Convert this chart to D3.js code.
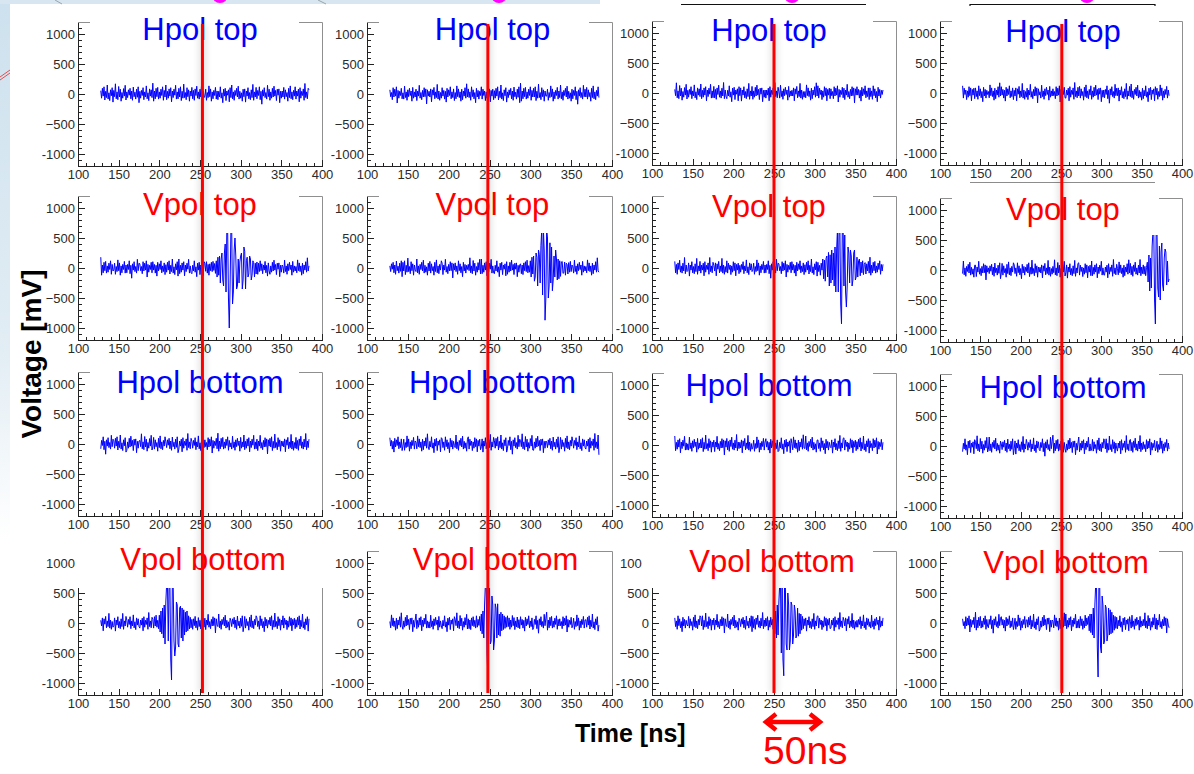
<!DOCTYPE html>
<html>
<head>
<meta charset="utf-8">
<script src="https://cdn.jsdelivr.net/npm/d3@7"></script>
<style>
  html, body { margin: 0; padding: 0; background: #fff; }
  svg { display: block; font-family: "Liberation Sans", Arial, Helvetica, sans-serif; }
</style>
</head>
<body>
<svg id="chart" width="1194" height="774"></svg>
<script>
// ---- digitiser sampling -------------------------------------------------
const sampleStart = 128;   // ns, first recorded sample
const sampleStep = 1;      // ns between samples

// ---- panel labels and axes ----------------------------------------------
const rowTitles = ["Hpol top", "Vpol top", "Hpol bottom", "Vpol bottom"];
const rowTitleColors = ["#0000ff", "#ff0000", "#0000ff", "#ff0000"];
const timeTicks = [100, 150, 200, 250, 300, 350, 400];
const voltTicks = [1000, 500, 0, -500, -1000];
const voltTickLabels = ["1000", "500", "0", "\u2212500", "-1000"];
const markerTimes = [253, 248, 250, 251];   // ns, reference time marked in each string column

// ---- waveforms (mV), one per string column, 1 ns per sample -------------
const hpolTop = [
  [55,-70,95,-35,120,-100,45,-60,150,-85,20,-110,70,-30,105,-135,
   60,-45,170,-80,35,-95,125,-50,80,-120,25,-70,90,-35,145,-100,
   35,-60,70,-20,95,-80,50,-105,115,-45,30,-85,80,-55,120,-145,
   45,-70,60,-25,105,-95,35,-50,135,-80,20,-110,85,-35,70,-60,
   180,-120,50,-80,95,-45,110,-85,35,-70,80,-25,120,-105,60,-50,
   150,-95,45,-70,85,-35,105,-130,50,-60,80,-20,145,-85,35,-80,
   95,-50,120,-110,45,-70,165,-60,25,-95,105,-45,70,-120,50,-35,
   110,-80,60,-105,85,-25,130,-70,35,-85,80,-50,175,-95,50,-60,
   -35,80,-105,25,-60,135,-45,85,-120,35,-80,60,-25,110,-85,50,
   -95,45,-50,120,-70,20,-145,80,-35,95,-110,50,-20,70,-130,105,
   -60,150,-80,35,-105,60,-25,95,-50,130,-85,45,-70,20,-120,80,
   -45,85,-135,50,-35,105,-80,25,-95,70,-60,160,-105,35,-50,110,
   -80,60,-25,120,-95,45,-170,70,-35,105,-60,25,-85,145,-45,80,
   -105,35,-70,95,-50,130,-35,60,-110,80,-20,85,-145,45,-70,50,
   -50,110,-85,70,-45,25,-120,95,-60,135,-80,35,-95,60,-35,120,
   -85,50,-35,80,-130,105,-70,45,-25,85,-105,175,-60,35,-80,95,
   70],
  [70,-45,25,-95,105,-50,80,-35,120,-150,60,-70,45,-25,95,-80,
   20,-85,130,-60,35,-105,70,-45,95,-25,50,-120,110,-70,35,-50,
   80,-110,50,-35,145,-70,25,-95,60,-50,105,-45,85,-165,70,-35,
   45,-50,85,-130,70,-20,110,-80,35,-60,160,-85,50,-105,25,-70,
   105,-35,60,-85,45,-135,95,-50,70,-25,120,-80,35,-60,85,-110,
   25,-80,135,-45,85,-60,35,-120,80,-95,50,-35,105,-70,170,-50,
   85,-60,35,-105,120,-45,70,-80,25,-145,95,-50,60,-85,45,-25,
   120,-85,80,-25,50,-110,35,-70,105,-45,85,-130,60,-35,80,-95,
   55,-70,95,-35,120,-100,45,-60,150,-85,20,-110,70,-30,105,-135,
   35,-60,70,-20,95,-80,50,-105,115,-45,30,-85,80,-55,120,-145,
   180,-120,50,-80,95,-45,110,-85,35,-70,80,-25,120,-105,60,-50,
   95,-50,120,-110,45,-70,165,-60,25,-95,105,-45,70,-120,50,-35,
   -35,80,-105,25,-60,135,-45,85,-120,35,-80,60,-25,110,-85,50,
   -60,150,-80,35,-105,60,-25,95,-50,130,-85,45,-70,20,-120,80,
   -80,60,-25,120,-95,45,-170,70,-35,105,-60,25,-85,145,-45,80,
   -50,110,-85,70,-45,25,-120,95,-60,135,-80,35,-95,60,-35,120,
   -60],
  [60,-45,170,-80,35,-95,125,-50,80,-120,25,-70,90,-35,145,-100,
   45,-70,60,-25,105,-95,35,-50,135,-80,20,-110,85,-35,70,-60,
   150,-95,45,-70,85,-35,105,-130,50,-60,80,-20,145,-85,35,-80,
   110,-80,60,-105,85,-25,130,-70,35,-85,80,-50,175,-95,50,-60,
   -95,45,-50,120,-70,20,-145,80,-35,95,-110,50,-20,70,-130,105,
   -45,85,-135,50,-35,105,-80,25,-95,70,-60,160,-105,35,-50,110,
   -105,35,-70,95,-50,130,-35,60,-110,80,-20,85,-145,45,-70,50,
   -85,50,-35,80,-130,105,-70,45,-25,85,-105,175,-60,35,-80,95,
   20,-85,130,-60,35,-105,70,-45,95,-25,50,-120,110,-70,35,-50,
   45,-50,85,-130,70,-20,110,-80,35,-60,160,-85,50,-105,25,-70,
   25,-80,135,-45,85,-60,35,-120,80,-95,50,-35,105,-70,170,-50,
   120,-85,80,-25,50,-110,35,-70,105,-45,85,-130,60,-35,80,-95,
   70,-45,25,-95,105,-50,80,-35,120,-150,60,-70,45,-25,95,-80,
   80,-110,50,-35,145,-70,25,-95,60,-50,105,-45,85,-165,70,-35,
   105,-35,60,-85,45,-135,95,-50,70,-25,120,-80,35,-60,85,-110,
   85,-60,35,-105,120,-45,70,-80,25,-145,95,-50,60,-85,45,-25,
   50],
  [120,-85,80,-25,50,-110,35,-70,105,-45,85,-130,60,-35,80,-95,
   85,-60,35,-105,120,-45,70,-80,25,-145,95,-50,60,-85,45,-25,
   25,-80,135,-45,85,-60,35,-120,80,-95,50,-35,105,-70,170,-50,
   105,-35,60,-85,45,-135,95,-50,70,-25,120,-80,35,-60,85,-110,
   45,-50,85,-130,70,-20,110,-80,35,-60,160,-85,50,-105,25,-70,
   80,-110,50,-35,145,-70,25,-95,60,-50,105,-45,85,-165,70,-35,
   20,-85,130,-60,35,-105,70,-45,95,-25,50,-120,110,-70,35,-50,
   70,-45,25,-95,105,-50,80,-35,120,-150,60,-70,45,-25,95,-80,
   -85,50,-35,80,-130,105,-70,45,-25,85,-105,175,-60,35,-80,95,
   -50,110,-85,70,-45,25,-120,95,-60,135,-80,35,-95,60,-35,120,
   -105,35,-70,95,-50,130,-35,60,-110,80,-20,85,-145,45,-70,50,
   -80,60,-25,120,-95,45,-170,70,-35,105,-60,25,-85,145,-45,80,
   -45,85,-135,50,-35,105,-80,25,-95,70,-60,160,-105,35,-50,110,
   -60,150,-80,35,-105,60,-25,95,-50,130,-85,45,-70,20,-120,80,
   -95,45,-50,120,-70,20,-145,80,-35,95,-110,50,-20,70,-130,105,
   -35,80,-105,25,-60,135,-45,85,-120,35,-80,60,-25,110,-85,50,
   -45]
];

const vpolTop = [
  [180,-120,50,-80,95,-45,110,-85,35,-70,80,-25,120,-105,60,-50,
   -35,80,-105,25,-60,135,-45,85,-120,35,-80,60,-25,110,-85,50,
   -80,60,-25,120,-95,45,-170,70,-35,105,-60,25,-85,145,-45,80,
   70,-45,25,-95,105,-50,80,-35,120,-150,60,-70,45,-25,95,-80,
   105,-35,60,-85,45,-135,95,-50,70,-25,120,-80,35,-60,85,-110,
   55,-70,95,-35,120,-100,45,-60,150,-85,20,-110,70,-30,105,-135,
   150,-95,45,-70,85,-35,105,-130,50,-60,80,-20,145,-85,35,-80,
   -95,45,-50,120,-70,20,-145,80,-35,95,-110,50,-20,70,-130,105,
   80,-55,105,-85,60,-120,70,-45,95,-60,110,-40,75,-90,120,-150,
   180,-120,200,-250,150,250,-200,-300,250,400,-400,650,650,-500,-1000,-300,
   650,650,-600,-400,300,500,200,-350,-300,150,-250,100,200,250,-350,-200,
   350,280,-350,120,180,-150,-100,200,150,-200,-120,120,90,-150,80,-100,
   100,-105,80,-60,120,-45,70,-95,50,-35,110,-80,45,-135,85,-50,
   -105,35,-70,95,-50,130,-35,60,-110,80,-20,85,-145,45,-70,50,
   20,-85,130,-60,35,-105,70,-45,95,-25,50,-120,110,-70,35,-50,
   25,-80,135,-45,85,-60,35,-120,80,-95,50,-35,105,-70,170,-50,
   35],
  [35,-60,70,-20,95,-80,50,-105,115,-45,30,-85,80,-55,120,-145,
   95,-50,120,-110,45,-70,165,-60,25,-95,105,-45,70,-120,50,-35,
   -60,150,-80,35,-105,60,-25,95,-50,130,-85,45,-70,20,-120,80,
   -50,110,-85,70,-45,25,-120,95,-60,135,-80,35,-95,60,-35,120,
   80,-110,50,-35,145,-70,25,-95,60,-50,105,-45,85,-165,70,-35,
   85,-60,35,-105,120,-45,70,-80,25,-145,95,-50,60,-85,45,-25,
   60,-45,170,-80,35,-95,125,-50,80,-120,25,-70,90,-35,145,-100,
   150,-95,45,-70,85,-35,105,-130,50,-60,80,-20,145,-85,35,-80,
   -95,45,-50,120,-70,20,-145,80,-35,95,-110,50,-20,70,-130,105,
   -105,35,-70,95,-50,130,-35,60,-110,80,-20,85,-145,45,-70,50,
   70,-95,50,-110,85,-45,105,-60,130,-80,40,-70,120,-150,180,-100,
   200,-220,-150,250,180,-300,300,220,-250,380,650,-450,650,300,-870,-500,
   650,500,-500,-300,420,-250,350,-380,-200,200,-150,300,150,-200,150,-180,
   120,-140,100,110,-90,-80,100,-120,80,60,-100,90,-70,110,-60,50,
   20,-85,130,-60,35,-105,70,-45,95,-25,50,-120,110,-70,35,-50,
   25,-80,135,-45,85,-60,35,-120,80,-95,50,-35,105,-70,170,-50,
   -70],
  [110,-80,60,-105,85,-25,130,-70,35,-85,80,-50,175,-95,50,-60,
   -45,85,-135,50,-35,105,-80,25,-95,70,-60,160,-105,35,-50,110,
   -85,50,-35,80,-130,105,-70,45,-25,85,-105,175,-60,35,-80,95,
   45,-50,85,-130,70,-20,110,-80,35,-60,160,-85,50,-105,25,-70,
   120,-85,80,-25,50,-110,35,-70,105,-45,85,-130,60,-35,80,-95,
   45,-70,60,-25,105,-95,35,-50,135,-80,20,-110,85,-35,70,-60,
   -35,80,-105,25,-60,135,-45,85,-120,35,-80,60,-25,110,-85,50,
   -80,60,-25,120,-95,45,-170,70,-35,105,-60,25,-85,145,-45,80,
   70,-45,25,-95,105,-50,80,-35,120,-150,60,-70,45,-25,95,-80,
   105,-35,60,-85,45,-135,95,-50,70,-25,120,-80,35,-60,85,-110,
   55,-70,95,-35,120,-100,45,-60,150,-85,20,-110,70,-30,105,-135,
   95,-60,45,-120,80,-35,150,-180,130,-220,160,200,-150,260,-300,220,
   -250,300,-200,250,-300,350,-400,300,650,-400,650,650,-600,-930,650,650,
   -300,550,-400,-650,-300,350,250,-250,300,200,-300,-200,250,300,-200,-150,
   180,-150,120,150,-130,100,-80,120,-110,60,90,-100,70,-50,110,-85,
   180,-120,50,-80,95,-45,110,-85,35,-70,80,-25,120,-105,60,-50,
   60],
  [-60,150,-80,35,-105,60,-25,95,-50,130,-85,45,-70,20,-120,80,
   80,-110,50,-35,145,-70,25,-95,60,-50,105,-45,85,-165,70,-35,
   35,-60,70,-20,95,-80,50,-105,115,-45,30,-85,80,-55,120,-145,
   -50,110,-85,70,-45,25,-120,95,-60,135,-80,35,-95,60,-35,120,
   85,-60,35,-105,120,-45,70,-80,25,-145,95,-50,60,-85,45,-25,
   95,-50,120,-110,45,-70,165,-60,25,-95,105,-45,70,-120,50,-35,
   45,-50,85,-130,70,-20,110,-80,35,-60,160,-85,50,-105,25,-70,
   60,-45,170,-80,35,-95,125,-50,80,-120,25,-70,90,-35,145,-100,
   -45,85,-135,50,-35,105,-80,25,-95,70,-60,160,-105,35,-50,110,
   120,-85,80,-25,50,-110,35,-70,105,-45,85,-130,60,-35,80,-95,
   150,-95,45,-70,85,-35,105,-130,50,-60,80,-20,145,-85,35,-80,
   -85,50,-35,80,-130,105,-70,45,-25,85,-105,175,-60,35,-80,95,
   25,-80,135,-45,85,-60,35,-120,80,-95,50,-35,105,-70,170,-50,
   110,-80,60,-105,85,-25,130,-70,35,-85,80,-50,175,-95,50,-60,
   85,-70,60,-95,45,130,-200,250,-350,200,-300,400,650,650,-500,-900,
   650,650,-300,-450,400,-500,300,450,-250,-350,200,350,300,-250,150,-200,
   -150]
];

const hpolBottom = [
  [-80,60,-25,120,-95,45,-170,70,-35,105,-60,25,-85,145,-45,80,
   55,-70,95,-35,120,-100,45,-60,150,-85,20,-110,70,-30,105,-135,
   -105,35,-70,95,-50,130,-35,60,-110,80,-20,85,-145,45,-70,50,
   60,-45,170,-80,35,-95,125,-50,80,-120,25,-70,90,-35,145,-100,
   -50,110,-85,70,-45,25,-120,95,-60,135,-80,35,-95,60,-35,120,
   35,-60,70,-20,95,-80,50,-105,115,-45,30,-85,80,-55,120,-145,
   -85,50,-35,80,-130,105,-70,45,-25,85,-105,175,-60,35,-80,95,
   45,-70,60,-25,105,-95,35,-50,135,-80,20,-110,85,-35,70,-60,
   70,-45,25,-95,105,-50,80,-35,120,-150,60,-70,45,-25,95,-80,
   180,-120,50,-80,95,-45,110,-85,35,-70,80,-25,120,-105,60,-50,
   20,-85,130,-60,35,-105,70,-45,95,-25,50,-120,110,-70,35,-50,
   150,-95,45,-70,85,-35,105,-130,50,-60,80,-20,145,-85,35,-80,
   80,-110,50,-35,145,-70,25,-95,60,-50,105,-45,85,-165,70,-35,
   95,-50,120,-110,45,-70,165,-60,25,-95,105,-45,70,-120,50,-35,
   45,-50,85,-130,70,-20,110,-80,35,-60,160,-85,50,-105,25,-70,
   110,-80,60,-105,85,-25,130,-70,35,-85,80,-50,175,-95,50,-60,
   80],
  [105,-35,60,-85,45,-135,95,-50,70,-25,120,-80,35,-60,85,-110,
   -35,80,-105,25,-60,135,-45,85,-120,35,-80,60,-25,110,-85,50,
   25,-80,135,-45,85,-60,35,-120,80,-95,50,-35,105,-70,170,-50,
   -95,45,-50,120,-70,20,-145,80,-35,95,-110,50,-20,70,-130,105,
   85,-60,35,-105,120,-45,70,-80,25,-145,95,-50,60,-85,45,-25,
   -60,150,-80,35,-105,60,-25,95,-50,130,-85,45,-70,20,-120,80,
   120,-85,80,-25,50,-110,35,-70,105,-45,85,-130,60,-35,80,-95,
   -45,85,-135,50,-35,105,-80,25,-95,70,-60,160,-105,35,-50,110,
   55,-70,95,-35,120,-100,45,-60,150,-85,20,-110,70,-30,105,-135,
   -80,60,-25,120,-95,45,-170,70,-35,105,-60,25,-85,145,-45,80,
   60,-45,170,-80,35,-95,125,-50,80,-120,25,-70,90,-35,145,-100,
   -105,35,-70,95,-50,130,-35,60,-110,80,-20,85,-145,45,-70,50,
   35,-60,70,-20,95,-80,50,-105,115,-45,30,-85,80,-55,120,-145,
   -50,110,-85,70,-45,25,-120,95,-60,135,-80,35,-95,60,-35,120,
   45,-70,60,-25,105,-95,35,-50,135,-80,20,-110,85,-35,70,-60,
   -85,50,-35,80,-130,105,-70,45,-25,85,-105,175,-60,35,-80,150,
   -180],
  [150,-95,45,-70,85,-35,105,-130,50,-60,80,-20,145,-85,35,-80,
   20,-85,130,-60,35,-105,70,-45,95,-25,50,-120,110,-70,35,-50,
   95,-50,120,-110,45,-70,165,-60,25,-95,105,-45,70,-120,50,-35,
   80,-110,50,-35,145,-70,25,-95,60,-50,105,-45,85,-165,70,-35,
   110,-80,60,-105,85,-25,130,-70,35,-85,80,-50,175,-95,50,-60,
   45,-50,85,-130,70,-20,110,-80,35,-60,160,-85,50,-105,25,-70,
   -35,80,-105,25,-60,135,-45,85,-120,35,-80,60,-25,110,-85,50,
   105,-35,60,-85,45,-135,95,-50,70,-25,120,-80,35,-60,85,-110,
   -95,45,-50,120,-70,20,-145,80,-35,95,-110,50,-20,70,-130,105,
   25,-80,135,-45,85,-60,35,-120,80,-95,50,-35,105,-70,170,-50,
   -60,150,-80,35,-105,60,-25,95,-50,130,-85,45,-70,20,-120,80,
   85,-60,35,-105,120,-45,70,-80,25,-145,95,-50,60,-85,45,-25,
   -45,85,-135,50,-35,105,-80,25,-95,70,-60,160,-105,35,-50,110,
   120,-85,80,-25,50,-110,35,-70,105,-45,85,-130,60,-35,80,-95,
   55,-70,95,-35,120,-100,45,-60,150,-85,20,-110,70,-30,105,-135,
   70,-45,25,-95,105,-50,80,-35,120,-150,60,-70,45,-25,95,-80,
   45],
  [-95,45,-50,120,-70,20,-145,80,-35,95,-110,50,-20,70,-130,105,
   60,-45,170,-80,35,-95,125,-50,80,-120,25,-70,90,-35,145,-100,
   -60,150,-80,35,-105,60,-25,95,-50,130,-85,45,-70,20,-120,80,
   35,-60,70,-20,95,-80,50,-105,115,-45,30,-85,80,-55,120,-145,
   -45,85,-135,50,-35,105,-80,25,-95,70,-60,160,-105,35,-50,110,
   45,-70,60,-25,105,-95,35,-50,135,-80,20,-110,85,-35,70,-60,
   -80,60,-25,120,-95,45,-170,70,-35,105,-60,25,-85,145,-45,80,
   180,-120,50,-80,95,-45,110,-85,35,-70,80,-25,120,-105,60,-50,
   -105,35,-70,95,-50,130,-35,60,-110,80,-20,85,-145,45,-70,50,
   150,-95,45,-70,85,-35,105,-130,50,-60,80,-20,145,-85,35,-80,
   -50,110,-85,70,-45,25,-120,95,-60,135,-80,35,-95,60,-35,120,
   95,-50,120,-110,45,-70,165,-60,25,-95,105,-45,70,-120,50,-35,
   -85,50,-35,80,-130,105,-70,45,-25,85,-105,175,-60,35,-80,95,
   110,-80,60,-105,85,-25,130,-70,35,-85,80,-50,175,-95,50,-60,
   70,-45,25,-95,105,-50,80,-35,120,-150,60,-70,45,-25,95,-80,
   -35,80,-105,25,-60,135,-45,85,-120,35,-80,60,-25,110,-85,50,
   -50]
];

const vpolBottom = [
  [45,-50,85,-130,70,-20,110,-80,35,-60,160,-85,50,-105,25,-70,
   -45,85,-135,50,-35,105,-80,25,-95,70,-60,160,-105,35,-50,110,
   45,-70,60,-25,105,-95,35,-50,135,-80,20,-110,85,-35,70,-60,
   -85,50,-35,80,-130,105,-70,45,-25,85,-105,175,-60,35,-80,95,
   60,-85,105,-50,130,-70,45,-95,130,-150,200,-180,250,-250,300,-350,
   350,650,650,-300,650,650,-600,-950,650,650,-300,-550,-400,350,300,-350,
   -400,250,280,-250,250,-300,220,-200,180,-150,200,-130,120,-100,95,-80,
   60,-105,70,-45,110,-80,35,-120,90,-60,45,-100,130,-55,80,-70,
   80,-110,50,-35,145,-70,25,-95,60,-50,105,-45,85,-165,70,-35,
   -60,150,-80,35,-105,60,-25,95,-50,130,-85,45,-70,20,-120,80,
   35,-60,70,-20,95,-80,50,-105,115,-45,30,-85,80,-55,120,-145,
   -50,110,-85,70,-45,25,-120,95,-60,135,-80,35,-95,60,-35,120,
   85,-60,35,-105,120,-45,70,-80,25,-145,95,-50,60,-85,45,-25,
   95,-50,120,-110,45,-70,165,-60,25,-95,105,-45,70,-120,50,-35,
   120,-85,80,-25,50,-110,35,-70,105,-45,85,-130,60,-35,80,-95,
   55,-70,95,-35,120,-100,45,-60,150,-85,20,-110,70,-30,105,-135,
   70],
  [25,-80,135,-45,85,-60,35,-120,80,-95,50,-35,105,-70,170,-50,
   -105,35,-70,95,-50,130,-35,60,-110,80,-20,85,-145,45,-70,50,
   150,-95,45,-70,85,-35,105,-130,50,-60,80,-20,145,-85,35,-80,
   20,-85,130,-60,35,-105,70,-45,95,-25,50,-120,110,-70,35,-50,
   -95,45,-50,120,-70,20,-145,80,-35,95,-110,50,-20,70,-130,105,
   60,-45,170,-80,35,-95,125,-50,80,-120,25,-70,90,-35,145,-100,
   70,-95,50,-110,85,-45,105,-60,45,-85,120,-70,60,-40,110,-130,
   150,-180,200,-250,300,650,650,-500,-900,650,650,-350,-300,450,300,-450,
   -300,320,250,-250,320,-200,150,-220,180,-130,150,-110,120,-90,95,-70,
   120,-60,85,-105,50,-70,125,-45,90,-110,35,-65,100,-80,55,-95,
   105,-35,60,-85,45,-135,95,-50,70,-25,120,-80,35,-60,85,-110,
   -80,60,-25,120,-95,45,-170,70,-35,105,-60,25,-85,145,-45,80,
   180,-120,50,-80,95,-45,110,-85,35,-70,80,-25,120,-105,60,-50,
   70,-45,25,-95,105,-50,80,-35,120,-150,60,-70,45,-25,95,-80,
   -35,80,-105,25,-60,135,-45,85,-120,35,-80,60,-25,110,-85,50,
   55,-70,95,-35,120,-100,45,-60,150,-85,20,-110,70,-30,105,-135,
   -35],
  [85,-60,35,-105,120,-45,70,-80,25,-145,95,-50,60,-85,45,-25,
   -50,110,-85,70,-45,25,-120,95,-60,135,-80,35,-95,60,-35,120,
   95,-50,120,-110,45,-70,165,-60,25,-95,105,-45,70,-120,50,-35,
   80,-110,50,-35,145,-70,25,-95,60,-50,105,-45,85,-165,70,-35,
   -60,150,-80,35,-105,60,-25,95,-50,130,-85,45,-70,20,-120,80,
   35,-60,70,-20,95,-80,50,-105,115,-45,30,-85,80,-55,120,-145,
   110,-80,60,-105,85,-25,130,-70,35,-85,80,-50,175,-95,50,-60,
   80,-50,105,-120,45,-70,95,-35,60,-105,130,-180,200,-250,300,-200,
   350,650,650,-500,650,-600,-880,650,600,-350,-450,500,300,-450,-300,350,
   300,-350,-200,300,200,-250,-200,250,-220,160,-180,150,-120,110,-95,70,
   -45,85,-135,50,-35,105,-80,25,-95,70,-60,160,-105,35,-50,110,
   120,-85,80,-25,50,-110,35,-70,105,-45,85,-130,60,-35,80,-95,
   -85,50,-35,80,-130,105,-70,45,-25,85,-105,175,-60,35,-80,95,
   45,-50,85,-130,70,-20,110,-80,35,-60,160,-85,50,-105,25,-70,
   45,-70,60,-25,105,-95,35,-50,135,-80,20,-110,85,-35,70,-60,
   20,-85,130,-60,35,-105,70,-45,95,-25,50,-120,110,-70,35,-50,
   85],
  [70,-45,25,-95,105,-50,80,-35,120,-150,60,-70,45,-25,95,-80,
   180,-120,50,-80,95,-45,110,-85,35,-70,80,-25,120,-105,60,-50,
   -80,60,-25,120,-95,45,-170,70,-35,105,-60,25,-85,145,-45,80,
   105,-35,60,-85,45,-135,95,-50,70,-25,120,-80,35,-60,85,-110,
   -35,80,-105,25,-60,135,-45,85,-120,35,-80,60,-25,110,-85,50,
   55,-70,95,-35,120,-100,45,-60,150,-85,20,-110,70,-30,105,-135,
   -105,35,-70,95,-50,130,-35,60,-110,80,-20,85,-145,45,-70,50,
   25,-80,135,-45,85,-60,35,-120,80,-95,50,-35,105,-70,170,-50,
   150,-95,45,-70,85,-35,105,-130,50,-60,80,-20,145,-85,35,-80,
   60,-85,110,-45,70,-105,35,-80,130,-50,85,-25,110,-130,150,-160,
   150,-200,250,-250,300,650,650,-400,-900,650,620,-400,-500,450,300,-350,
   -300,300,250,-300,-200,250,-200,220,-180,180,-160,130,-120,110,-90,95,
   -95,45,-50,120,-70,20,-145,80,-35,95,-110,50,-20,70,-130,105,
   20,-85,130,-60,35,-105,70,-45,95,-25,50,-120,110,-70,35,-50,
   60,-45,170,-80,35,-95,125,-50,80,-120,25,-70,90,-35,145,-100,
   80,-110,50,-35,145,-70,25,-95,60,-50,105,-45,85,-165,70,-35,
   -80]
];

const panelRows = [hpolTop, vpolTop, hpolBottom, vpolBottom];

// ---- page layout ----------------------------------------------------------
const W = 1194, H = 774;
const colLeft = [78, 367, 652, 940];
const colRight = [322, 612, 896, 1182];
const rowZero = [94, 268, 444, 623];
const zeroNudge = [[0, 0, -1, -1], [0, 0, 0, 2], [0, 0, 1, 2], [0, 0, 0, 0]];
const halfSpan = 72;                 // px between 0 mV and the frame edge (1200 mV)
const titleShift = [0, 3, -5, 2];
const titleBaselineGap = [18, 19, 21, 19];
const titleColDrop = [0, 0, 2, 3];

const svg = d3.select("#chart");
const defs = svg.append("defs");

const edge = defs.append("linearGradient").attr("id", "slideEdge")
  .attr("x1", 0).attr("y1", 0).attr("x2", 0).attr("y2", 1);
edge.append("stop").attr("offset", "0%").attr("stop-color", "#cde1ee");
edge.append("stop").attr("offset", "65%").attr("stop-color", "#e2edf4");
edge.append("stop").attr("offset", "100%").attr("stop-color", "#ffffff");

const soft = defs.append("filter").attr("id", "soft")
  .attr("x", "-200%").attr("y", "-5%").attr("width", "500%").attr("height", "110%");
soft.append("feGaussianBlur").attr("stdDeviation", 3);

// slide background
svg.append("rect").attr("width", W).attr("height", H).attr("fill", "#fff");
svg.append("rect").attr("x", 0).attr("y", 0).attr("width", 10).attr("height", 540)
  .attr("fill", "url(#slideEdge)");
svg.append("rect").attr("x", 0).attr("y", 0).attr("width", 600).attr("height", 4)
  .attr("fill", "#d7e6f0");
svg.append("path").attr("d", "M0,77L10,70M0,80L10,73")
  .attr("stroke", "#e05050").attr("stroke-width", 1).attr("fill", "none");
svg.append("path").attr("d", "M55,0L62,4M318,0L326,4")
  .attr("stroke", "#9aa4ab").attr("stroke-width", 1).attr("fill", "none");
[220, 499, 792, 1087].forEach(cx => {
  svg.append("ellipse").attr("cx", cx).attr("cy", -5).attr("rx", 8).attr("ry", 8)
    .attr("fill", "#ff00ff");
});
svg.append("path").attr("d", "M681,4.5H866").attr("stroke", "#111").attr("stroke-width", 1.2);
svg.append("path").attr("d", "M970,7.5V4.5H1155V7.5").attr("stroke", "#111")
  .attr("stroke-width", 1.2).attr("fill", "none");
svg.append("path").attr("d", "M970,182.5H1155").attr("stroke", "#8c8c8c").attr("stroke-width", 1);

const columnScales = [];

function styleAxis(sel) {
  sel.attr("font-family", "\"Liberation Sans\", Arial, Helvetica, sans-serif")
    .attr("font-size", 13)
    .attr("color", "#222")
    .attr("shape-rendering", "crispEdges");
  sel.selectAll("text").attr("fill", "#2a2a2a");
}

panelRows.forEach((waves, r) => {
  waves.forEach((volts, c) => {
    const left = colLeft[c], right = colRight[c];
    const zero = rowZero[r] + zeroNudge[r][c];
    const top = zero - halfSpan, bottom = zero + halfSpan;

    const x = d3.scaleLinear().domain([100, 400]).range([left, right]);
    const y = d3.scaleLinear().domain([-1200, 1200]).range([bottom, top]);
    if (r === 0) columnScales[c] = x;

    const g = svg.append("g").attr("class", "panel");

    // grey frame on the top and right sides
    g.append("path")
      .attr("d", `M${left},${top + 0.5}H${right + 0.5}V${bottom}`)
      .attr("fill", "none").attr("stroke", "#8f8f8f").attr("stroke-width", 1);

    // time axis: secondary ticks every 10 ns, labelled primaries every 50 ns
    g.append("g").attr("transform", `translate(0,${bottom})`)
      .call(d3.axisBottom(x).tickValues(d3.range(110, 400, 10).filter(t => t % 50 !== 0))
        .tickSize(-3).tickFormat(""))
      .call(s => s.select(".domain").remove())
      .call(styleAxis);
    g.append("g").attr("transform", `translate(0,${bottom})`)
      .call(d3.axisBottom(x).tickValues(timeTicks).tickSize(-6).tickSizeOuter(0).tickPadding(4))
      .call(styleAxis);

    // voltage axis: secondary ticks every 100 mV, labelled primaries every 500 mV
    g.append("g").attr("transform", `translate(${left},0)`)
      .call(d3.axisLeft(y).tickValues(d3.range(-1100, 1200, 100).filter(v => v % 500 !== 0))
        .tickSize(-4).tickFormat(""))
      .call(s => s.select(".domain").remove())
      .call(styleAxis);
    g.append("g").attr("transform", `translate(${left},0)`)
      .call(d3.axisLeft(y).tickValues(voltTicks).tickSize(-7).tickSizeOuter(0).tickPadding(3)
        .tickFormat((d, i) => voltTickLabels[i]))
      .call(styleAxis);

    // waveform
    const line = d3.line()
      .x((v, i) => x(sampleStart + i * sampleStep))
      .y(v => y(v));
    g.append("path").datum(volts)
      .attr("d", line)
      .attr("fill", "none")
      .attr("stroke", "#0000ff")
      .attr("stroke-width", 1)
      .attr("stroke-linejoin", "round");

    // title label on its white box
    let bx0 = left + 12, bx1 = right - 23;
    if (r === 3 && c === 0) { bx0 = left - 1; bx1 = right + 3; }
    if (r === 3 && c === 2) { bx0 = left - 10; }
    g.append("rect")
      .attr("x", bx0).attr("y", top - 15)
      .attr("width", bx1 - bx0).attr("height", 52)
      .attr("fill", "#fff");
    g.append("text")
      .attr("x", (left + right) / 2 + titleShift[c] + (r === 3 ? 3 : 0))
      .attr("y", top + titleBaselineGap[r] + titleColDrop[c])
      .attr("text-anchor", "middle")
      .attr("font-size", 31)
      .attr("fill", rowTitleColors[r])
      .text(rowTitles[r]);
  });
});

// reference-time markers running down each string column
markerTimes.forEach((t, c) => {
  const mx = columnScales[c](t);
  svg.append("rect")
    .attr("x", mx - 4).attr("y", 24).attr("width", 8).attr("height", 669)
    .attr("fill", "#000").attr("opacity", 0.10).attr("filter", "url(#soft)");
  svg.append("line")
    .attr("x1", mx).attr("x2", mx).attr("y1", 24).attr("y2", 693)
    .attr("stroke", "#ff0000").attr("stroke-width", 3);
});

// shared axis titles
svg.append("text")
  .attr("transform", "translate(41,354) rotate(-90)")
  .attr("text-anchor", "middle")
  .attr("font-size", 28).attr("font-weight", "bold").attr("fill", "#000")
  .text("Voltage [mV]");
svg.append("text")
  .attr("x", 575).attr("y", 742)
  .attr("font-size", 25).attr("font-weight", "bold").attr("fill", "#000")
  .text("Time [ns]");

// 50 ns scale arrow
const arrowY = 722, ax0 = 764, ax1 = 822;
svg.append("path")
  .attr("d", `M${ax0 + 2},${arrowY}H${ax1 - 2}M${ax0 + 12},${arrowY - 8}L${ax0 + 2},${arrowY}L${ax0 + 12},${arrowY + 8}M${ax1 - 12},${arrowY - 8}L${ax1 - 2},${arrowY}L${ax1 - 12},${arrowY + 8}`)
  .attr("fill", "none").attr("stroke", "#ff0000").attr("stroke-width", 4.5)
  .attr("stroke-linejoin", "miter");
svg.append("text")
  .attr("x", 763).attr("y", 764)
  .attr("font-size", 39).attr("fill", "#ff0000")
  .text("50ns");
</script>
</body>
</html>
